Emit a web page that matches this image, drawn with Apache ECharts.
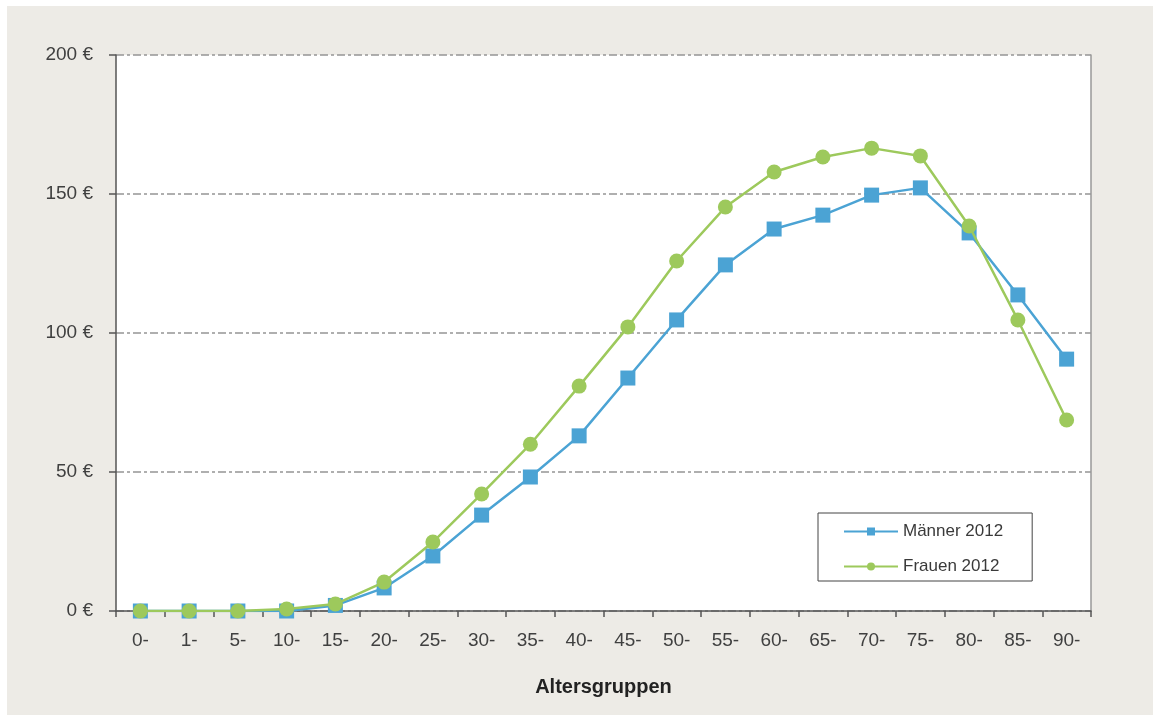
<!DOCTYPE html>
<html>
<head>
<meta charset="utf-8">
<script src="https://cdn.jsdelivr.net/npm/echarts@6/dist/echarts.min.js"></script>
<style>
html,body{margin:0;padding:0;background:#ffffff;}
#c{position:absolute;left:7px;top:6px;width:1146px;height:709px;background:#EDEBE6;}
</style>
</head>
<body>
<div id="c"></div>
<script>
var categories = ['0-','1-','5-','10-','15-','20-','25-','30-','35-','40-','45-','50-','55-','60-','65-','70-','75-','80-','85-','90-'];
var maenner = [0,0,0,0,2,8.3,19.8,34.5,48.2,63,83.8,104.7,124.5,137.4,142.4,149.6,152.2,136,113.7,90.6];
var frauen = [0,0,0,0.7,2.5,10.4,24.8,42.1,60,80.9,102.2,125.9,145.3,157.9,163.3,166.5,163.7,138.5,104.7,68.7];
var yTicks = [0,50,100,150,200];

var chart = echarts.init(document.getElementById('c'));
var font = 'Liberation Sans, Arial, sans-serif';
chart.setOption({
  animation: false,
  textStyle: {fontFamily: font},
  grid: {left: 109, top: 49, width: 975, height: 556, show: true, backgroundColor: '#ffffff', borderWidth: 0, containLabel: false},
  legend: {
    orient: 'vertical', left: 811, top: 507,
    padding: [10, 29, 6, 25],
    borderColor: '#444444', borderWidth: 1, backgroundColor: '#ffffff',
    itemWidth: 54, itemHeight: 10, itemGap: 18,
    textStyle: {fontSize: 17, color: '#3a3a3a', fontFamily: font},
    data: ['Männer 2012', 'Frauen 2012']
  },
  xAxis: {
    type: 'category', data: categories, boundaryGap: true,
    name: 'Altersgruppen', nameLocation: 'middle', nameGap: 66,
    nameTextStyle: {fontSize: 20, fontWeight: 'bold', color: '#222222', fontFamily: font},
    axisLine: {lineStyle: {color: '#555555', width: 1.5}},
    axisTick: {show: true, inside: false, length: 6, alignWithLabel: false, lineStyle: {color: '#555555', width: 1.5}},
    axisLabel: {fontSize: 19, color: '#404040', margin: 20, interval: 0},
    splitLine: {show: false}
  },
  yAxis: [{
    type: 'value', min: 0, max: 200, interval: 50,
    axisLine: {show: true, lineStyle: {color: '#555555', width: 1.5}},
    axisTick: {show: true, inside: false, length: 7, lineStyle: {color: '#555555', width: 1.5}},
    axisLabel: {fontSize: 19, color: '#404040', margin: 23, formatter: function(v){ return yTicks.indexOf(v) >= 0 ? v + ' €' : ''; }},
    splitLine: {show: true, lineStyle: {color: '#959595', width: 1.5, type: [8, 3, 3, 3]}}
  }, {
    type: 'value', min: 0, max: 200, interval: 50, position: 'right',
    axisLine: {show: true, lineStyle: {color: '#999999', width: 1.5}},
    axisTick: {show: false}, axisLabel: {show: false}, splitLine: {show: false}
  }],
  series: [{
    name: 'Männer 2012', type: 'line', data: maenner,
    symbol: 'rect', symbolSize: 15,
    itemStyle: {color: '#4BA3D4'},
    lineStyle: {color: '#4BA3D4', width: 2.5},
    z: 2
  }, {
    name: 'Frauen 2012', type: 'line', data: frauen,
    symbol: 'circle', symbolSize: 15,
    itemStyle: {color: '#9DC95C'},
    lineStyle: {color: '#9DC95C', width: 2.5},
    z: 3
  }]
});
</script>
</body>
</html>
